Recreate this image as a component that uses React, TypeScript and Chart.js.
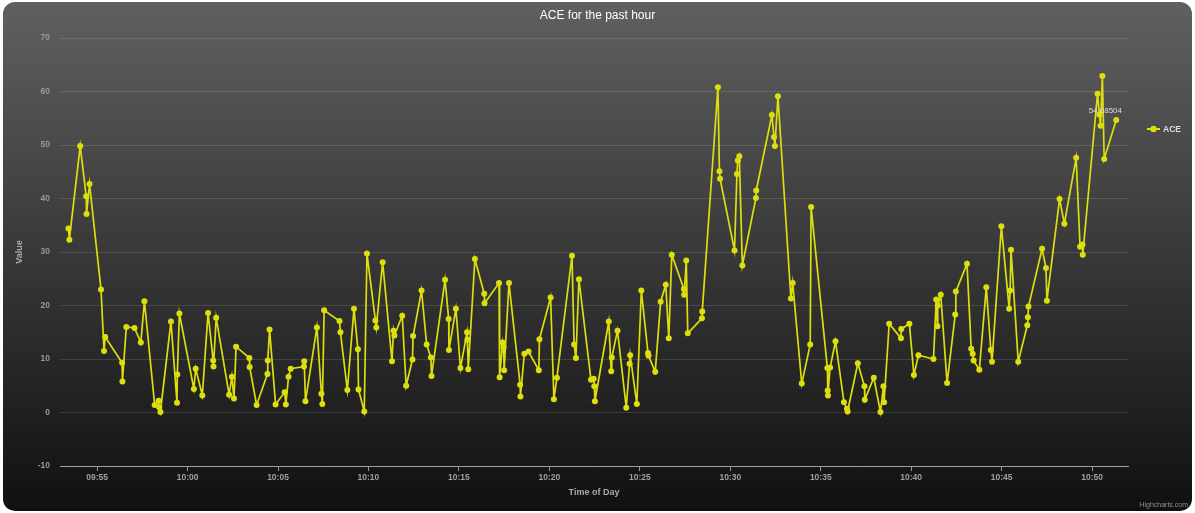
import React, { useEffect, useRef } from "react";
import { Chart, registerables } from "chart.js";

Chart.register(...registerables);

const TITLE = "ACE for the past hour";
const SERIES_NAME = "ACE";
const X_TITLE = "Time of Day";
const Y_TITLE = "Value";
const CREDIT = "Highcharts.com";

const Y_MIN = -10;
const Y_MAX = 70;
const Y_STEP = 10;

const X_TICK_LABELS = ["09:55", "10:00", "10:05", "10:10", "10:15", "10:20", "10:25", "10:30", "10:35", "10:40", "10:45", "10:50"];
const X_MIN_TIME = "09:52:57";
const X_MAX_TIME = "10:51:59";

const TIMES = [
  "09:53:25", "09:53:28", "09:54:04", "09:54:24", "09:54:25", "09:54:35", "09:55:13", "09:55:23", "09:55:27", "09:56:23",
  "09:56:24", "09:56:37", "09:57:04", "09:57:25", "09:57:37", "09:58:11", "09:58:24", "09:58:26", "09:58:30", "09:59:05",
  "09:59:25", "09:59:26", "09:59:33", "10:00:21", "10:00:27", "10:00:49", "10:01:08", "10:01:25", "10:01:26", "10:01:35",
  "10:02:18", "10:02:27", "10:02:34", "10:02:41", "10:03:25", "10:03:26", "10:03:49", "10:04:25", "10:04:26", "10:04:32",
  "10:04:52", "10:05:22", "10:05:26", "10:05:35", "10:05:42", "10:06:26", "10:06:27", "10:06:31", "10:07:09", "10:07:24",
  "10:07:27", "10:07:33", "10:08:24", "10:08:27", "10:08:50", "10:09:12", "10:09:25", "10:09:27", "10:09:46", "10:09:55",
  "10:10:23", "10:10:26", "10:10:47", "10:11:18", "10:11:23", "10:11:26", "10:11:52", "10:12:05", "10:12:26", "10:12:28",
  "10:12:56", "10:13:13", "10:13:27", "10:13:29", "10:14:14", "10:14:26", "10:14:27", "10:14:50", "10:15:05", "10:15:27",
  "10:15:28", "10:15:31", "10:15:53", "10:16:24", "10:16:25", "10:17:13", "10:17:15", "10:17:25", "10:17:28", "10:17:30",
  "10:17:46", "10:18:23", "10:18:24", "10:18:37", "10:18:51", "10:19:25", "10:19:27", "10:20:04", "10:20:15", "10:20:25",
  "10:21:15", "10:21:22", "10:21:28", "10:21:38", "10:22:18", "10:22:27", "10:22:29", "10:22:31", "10:23:17", "10:23:25",
  "10:23:27", "10:23:46", "10:24:15", "10:24:26", "10:24:28", "10:24:50", "10:25:05", "10:25:27", "10:25:29", "10:25:51",
  "10:26:09", "10:26:26", "10:26:36", "10:26:46", "10:27:26", "10:27:27", "10:27:34", "10:27:39", "10:28:26", "10:28:27",
  "10:29:19", "10:29:24", "10:29:26", "10:30:14", "10:30:22", "10:30:25", "10:30:30", "10:30:40", "10:31:25", "10:31:26",
  "10:32:18", "10:32:25", "10:32:28", "10:32:38", "10:33:21", "10:33:27", "10:33:57", "10:34:25", "10:34:28", "10:35:22",
  "10:35:23", "10:35:24", "10:35:31", "10:35:49", "10:36:17", "10:36:27", "10:36:29", "10:37:03", "10:37:25", "10:37:26",
  "10:37:56", "10:38:18", "10:38:28", "10:38:30", "10:38:47", "10:39:26", "10:39:27", "10:39:54", "10:40:09", "10:40:24",
  "10:41:14", "10:41:23", "10:41:27", "10:41:28", "10:41:38", "10:41:59", "10:42:26", "10:42:28", "10:43:05", "10:43:19",
  "10:43:24", "10:43:27", "10:43:46", "10:44:09", "10:44:24", "10:44:28", "10:44:59", "10:45:25", "10:45:28", "10:45:31",
  "10:45:55", "10:46:25", "10:46:27", "10:46:29", "10:47:14", "10:47:27", "10:47:30", "10:48:12", "10:48:28", "10:49:07",
  "10:49:20", "10:49:28", "10:49:29", "10:50:18", "10:50:24", "10:50:28", "10:50:34", "10:50:40", "10:51:20",
];

const VALUES = [
  34.4, 32.3, 49.8, 40.4, 37.1, 42.7, 23.0, 11.5, 14.1, 9.3,
  5.8, 16.0, 15.8, 13.1, 20.8, 1.4, 2.2, 1.0, 0.1, 17.0,
  1.8, 7.1, 18.5, 4.4, 8.2, 3.2, 18.6, 9.7, 8.6, 17.7,
  3.3, 6.7, 2.6, 12.3, 10.2, 8.5, 1.4, 7.2, 9.7, 15.5,
  1.5, 3.8, 1.5, 6.7, 8.2, 8.6, 9.6, 2.1, 15.9, 3.5,
  1.6, 19.1, 17.1, 15.0, 4.2, 19.4, 11.8, 4.3, 0.2, 29.7,
  17.2, 15.9, 28.1, 9.6, 15.3, 14.4, 18.1, 5.0, 9.9, 14.3,
  22.8, 12.7, 10.3, 6.8, 24.8, 17.5, 11.7, 19.4, 8.3, 15.0,
  13.6, 8.1, 28.7, 22.2, 20.4, 24.2, 6.6, 13.1, 12.2, 7.9,
  24.2, 5.2, 3.0, 11.0, 11.4, 7.9, 13.7, 21.5, 2.5, 6.5,
  29.3, 12.7, 10.2, 24.9, 6.1, 6.3, 4.9, 2.1, 17.0, 7.7,
  10.3, 15.3, 0.9, 9.1, 10.7, 1.6, 22.8, 11.1, 10.6, 7.6,
  20.7, 23.9, 13.9, 29.5, 23.1, 22.0, 28.4, 14.8, 17.6, 18.9,
  60.8, 45.1, 43.7, 30.3, 44.6, 47.1, 47.9, 27.5, 40.1, 41.5,
  55.6, 51.5, 49.8, 59.1, 21.3, 24.2, 5.4, 12.7, 38.4, 8.3,
  4.1, 3.2, 8.4, 13.3, 1.9, 0.7, 0.2, 9.2, 4.9, 2.4,
  6.5, 0.1, 4.9, 1.9, 16.6, 13.9, 15.6, 16.6, 7.0, 10.7,
  10.0, 21.1, 16.1, 20.0, 22.0, 5.5, 18.3, 22.6, 27.8, 11.9,
  11.0, 9.7, 8.0, 23.4, 11.7, 9.5, 34.8, 19.4, 22.8, 30.4,
  9.5, 16.3, 17.8, 19.8, 30.6, 27.0, 20.9, 39.9, 35.3, 47.6,
  31.0, 31.4, 29.5, 59.6, 55.7, 53.6, 62.9, 47.4, 54.68504,
];

const LINE_COLOR = "#DDDF0D";
const FONT = '"Liberation Sans", Arial, sans-serif';

// minutes relative to 10:00
function toMinutes(t: string): number {
  const parts = t.split(":").map(Number);
  const h = parts[0], m = parts[1], s = parts[2] || 0;
  return (h - 10) * 60 + m + s / 60;
}

function formatMinutes(v: number): string {
  const total = Math.round(v) + 600;
  const h = Math.floor(total / 60);
  const m = total % 60;
  return String(h).padStart(2, "0") + ":" + String(m).padStart(2, "0");
}

const overlayPlugin = {
  id: "overlay",
  afterDraw(chart: any) {
    const ctx = chart.ctx as CanvasRenderingContext2D;
    const ca = chart.chartArea;
    ctx.save();

    // title
    ctx.fillStyle = "#FFFFFF";
    ctx.font = `12px ${FONT}`;
    ctx.textAlign = "center";
    ctx.textBaseline = "middle";
    ctx.fillText(TITLE, chart.width / 2, 14);

    // axis titles
    ctx.fillStyle = "#AAAAAA";
    ctx.font = `bold 9px ${FONT}`;
    ctx.fillText(X_TITLE, (ca.left + ca.right) / 2, 491);
    ctx.save();
    ctx.translate(17, (ca.top + ca.bottom) / 2);
    ctx.rotate(-Math.PI / 2);
    ctx.fillText(Y_TITLE, 0, 0);
    ctx.restore();

    // legend
    const ly = 127;
    ctx.strokeStyle = LINE_COLOR;
    ctx.lineWidth = 2;
    ctx.beginPath();
    ctx.moveTo(1144, ly);
    ctx.lineTo(1157, ly);
    ctx.stroke();
    ctx.fillStyle = LINE_COLOR;
    ctx.beginPath();
    ctx.arc(1150.5, ly, 3.2, 0, Math.PI * 2);
    ctx.fill();
    ctx.fillStyle = "#DDDDDD";
    ctx.font = `bold 8.5px ${FONT}`;
    ctx.textAlign = "left";
    ctx.fillText(SERIES_NAME, 1160, ly + 0.5);

    // data label on last point
    const meta = chart.getDatasetMeta(0);
    const lastIdx = VALUES.length - 1;
    const pt = meta.data[lastIdx];
    if (pt) {
      const txt = String(VALUES[lastIdx]);
      ctx.font = `8px ${FONT}`;
      const w = ctx.measureText(txt).width;
      let cx = pt.x;
      if (cx + w / 2 > ca.right - 6) cx = ca.right - 6 - w / 2;
      ctx.fillStyle = "#DDDDDD";
      ctx.textAlign = "center";
      ctx.fillText(txt, cx, pt.y - 9);
    }

    // credit
    ctx.fillStyle = "#909090";
    ctx.font = `7px ${FONT}`;
    ctx.textAlign = "right";
    ctx.fillText(CREDIT, chart.width - 4, 503);

    ctx.restore();
  },
};

export default function App() {
  const canvasRef = useRef<HTMLCanvasElement | null>(null);

  useEffect(() => {
    if (!canvasRef.current) return;
    const points = TIMES.map((t, i) => ({ x: toMinutes(t), y: VALUES[i] }));
    const tickValues = X_TICK_LABELS.map((l) => toMinutes(l + ":00"));

    const chart = new Chart(canvasRef.current, {
      type: "line",
      data: {
        datasets: [
          {
            label: SERIES_NAME,
            data: points,
            borderColor: LINE_COLOR,
            backgroundColor: LINE_COLOR,
            borderWidth: 1.7,
            pointRadius: 3,
            pointBorderWidth: 0,
            pointBackgroundColor: LINE_COLOR,
            tension: 0,
            fill: false,
          },
        ],
      },
      options: {
        animation: false,
        responsive: true,
        maintainAspectRatio: false,
        layout: { padding: { top: 36, right: 64, left: 0, bottom: 0 } },
        plugins: {
          legend: { display: false },
          title: { display: false },
          tooltip: { enabled: false },
        },
        scales: {
          x: {
            type: "linear",
            min: toMinutes(X_MIN_TIME),
            max: toMinutes(X_MAX_TIME),
            afterBuildTicks: (scale: any) => {
              scale.ticks = tickValues.map((v) => ({ value: v }));
            },
            afterFit: (scale: any) => {
              scale.height = 45;
            },
            grid: {
              drawOnChartArea: false,
              drawTicks: true,
              tickLength: 5,
              color: "#999999",
              tickColor: "#999999",
            },
            border: { display: true, color: "#A0A0A0", width: 1 },
            ticks: {
              autoSkip: false,
              maxRotation: 0,
              padding: 2,
              color: "#A0A0A0",
              font: { family: FONT, size: 8.5, weight: "bold" },
              callback: (v: any) => formatMinutes(Number(v)),
            },
          },
          y: {
            min: Y_MIN,
            max: Y_MAX,
            afterFit: (scale: any) => {
              scale.width = 57;
            },
            grid: {
              color: "rgba(255,255,255,0.12)",
              drawTicks: false,
              lineWidth: 1,
            },
            border: { display: false },
            ticks: {
              stepSize: Y_STEP,
              padding: 10,
              color: "#999999",
              font: { family: FONT, size: 8.5, weight: "bold" },
            },
          },
        },
      },
      plugins: [overlayPlugin],
    } as any);

    return () => chart.destroy();
  }, []);

  return (
    <div
      style={{
        position: "absolute",
        left: 3,
        top: 2,
        width: 1189,
        height: 509,
        borderRadius: 12,
        overflow: "hidden",
        background: "linear-gradient(to bottom, rgb(96,96,96) 0%, rgb(16,16,16) 100%)",
      }}
    >
      <canvas ref={canvasRef} />
    </div>
  );
}
